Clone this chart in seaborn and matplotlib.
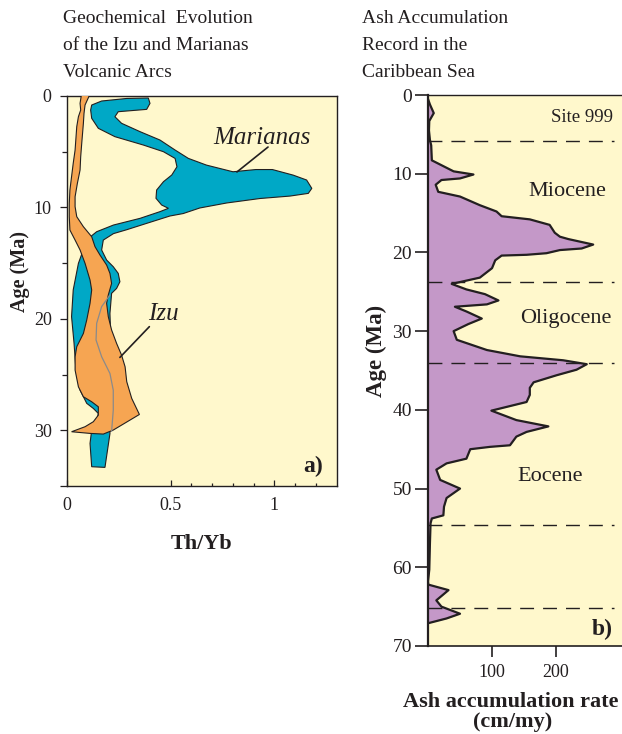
import matplotlib
matplotlib.use("Agg")
import matplotlib.pyplot as plt
import seaborn as sns
import pandas as pd

W, H = 622, 734
sns.set_theme(style="ticks")
plt.rcParams["font.family"] = ["Liberation Serif", "DejaVu Serif"]

INK = "#231f20"
CREAM = "#fff8cc"
BLUE = "#00a8c6"
ORANGE = "#f6a552"
PURPLE = "#c498c8"

# ---------------- panel a: Th/Yb envelopes through time ----------------
marianas_thyb = [0.119, 0.167, 0.288, 0.392, 0.400, 0.384, 0.247, 0.231, 0.263, 0.352,
                 0.448, 0.521, 0.585, 0.672, 0.800, 0.910, 0.990, 1.090, 1.155, 1.180,
                 1.163, 1.075, 0.930, 0.770, 0.640, 0.560, 0.496, 0.384, 0.288, 0.224,
                 0.175, 0.167, 0.191, 0.223, 0.247, 0.255, 0.239, 0.215, 0.207, 0.215,
                 0.207, 0.207, 0.183, 0.119, 0.111, 0.119, 0.143, 0.151, 0.127, 0.095,
                 0.063, 0.043, 0.034, 0.022, 0.030, 0.055, 0.087, 0.105, 0.143, 0.224,
                 0.352, 0.448, 0.489, 0.456, 0.429, 0.432, 0.465, 0.505, 0.530, 0.521,
                 0.465, 0.368, 0.231, 0.151, 0.119, 0.114]
marianas_age = [0.81, 0.45, 0.22, 0.18, 0.66, 1.20, 1.41, 1.86, 2.45, 3.20,
                3.95, 4.85, 5.60, 6.20, 6.80, 6.60, 6.60, 7.10, 7.54, 8.29,
                8.74, 8.98, 9.20, 9.60, 10.05, 10.55, 10.77, 11.43, 12.00, 12.35,
                12.93, 13.82, 14.72, 15.32, 15.92, 16.67, 17.27, 17.71, 19.51, 23.99,
                27.00, 30.30, 33.33, 33.27, 31.18, 29.98, 29.23, 28.49, 28.04, 27.58,
                26.39, 24.59, 22.20, 19.80, 17.40, 15.02, 13.37, 12.75, 12.18, 11.58,
                10.98, 10.38, 10.08, 9.78, 9.18, 8.44, 7.69, 7.09, 6.35, 5.60,
                5.00, 4.40, 3.65, 2.90, 2.00, 1.26]

izu_thyb = [0.071, 0.063, 0.066, 0.055, 0.047, 0.039, 0.030, 0.022, 0.014, 0.011,
            0.011, 0.014, 0.039, 0.063, 0.087, 0.111, 0.119, 0.111, 0.095, 0.079,
            0.047, 0.039, 0.039, 0.055, 0.079, 0.119, 0.151, 0.151, 0.127, 0.087,
            0.022, 0.111, 0.175, 0.223, 0.349, 0.312, 0.288, 0.280, 0.263, 0.239,
            0.215, 0.199, 0.191, 0.199, 0.215, 0.207, 0.191, 0.159, 0.135, 0.119,
            0.079, 0.047, 0.039, 0.039, 0.050, 0.063, 0.066, 0.071, 0.079, 0.082,
            0.087, 0.114]
izu_age = [-0.3, 0.66, 1.26, 1.86, 2.75, 4.85, 6.04, 7.24, 8.44, 9.64,
           10.83, 12.03, 12.93, 13.82, 15.02, 16.52, 17.41, 18.61, 20.11, 21.31,
           22.50, 23.40, 24.60, 26.10, 26.99, 27.44, 27.89, 28.64, 29.23, 29.68,
           30.13, 30.28, 30.34, 29.98, 28.58, 27.14, 25.64, 24.30, 23.25, 22.20,
           21.00, 19.80, 18.61, 17.86, 16.82, 15.92, 15.17, 14.27, 13.52, 12.63,
           11.73, 10.83, 9.93, 9.04, 7.84, 6.64, 5.45, 4.25, 2.45, 1.56,
           0.81, -0.3]

# median trace inside the Izu envelope
izu_mid_thyb = [0.207, 0.167, 0.143, 0.140, 0.167, 0.207, 0.223, 0.223, 0.215]
izu_mid_age = [17.86, 18.9, 20.4, 21.9, 23.4, 24.9, 26.4, 28.2, 30.1]

# ---------------- panel b: ash accumulation, Site 999 ----------------
ash_age = [0.5, 1.2, 2.3, 3.3, 4.5, 5.7, 6.4, 8.3, 9.7, 10.1,
           10.6, 10.8, 11.4, 12.3, 12.9, 14.0, 14.8, 15.4, 15.8, 16.5,
           17.5, 18.0, 18.3, 19.0, 19.5, 19.7, 20.1, 20.3, 20.4, 21.0,
           22.0, 23.2, 24.0, 24.7, 25.3, 26.1, 26.6, 26.9, 27.5, 28.4,
           29.1, 30.0, 31.1, 32.4, 33.2, 33.7, 34.2, 34.9, 35.6, 36.5,
           37.2, 38.1, 39.0, 40.1, 41.3, 42.1, 42.8, 43.4, 44.5, 44.7,
           45.0, 46.2, 46.8, 47.6, 48.9, 50.0, 51.2, 52.3, 53.4, 53.8,
           54.4, 57.0, 60.3, 61.8, 62.2, 62.9, 64.2, 65.0, 65.9, 66.5,
           67.1]
ash_rate = [0, 3, 9, 2, 1.5, 3, 5, 6, 40, 71,
            50, 21, 12, 16, 50, 81, 107, 115, 159, 190,
            198, 206, 219, 258, 240, 206, 185, 154, 115, 105,
            100, 81, 37, 60, 89, 110, 92, 42, 60, 84,
            63, 40, 45, 92, 144, 211, 248, 232, 201, 165,
            159, 159, 154, 99, 138, 188, 154, 138, 128, 97,
            66, 60, 29, 13, 19, 50, 29, 25, 24, 6,
            4, 3, 2, 0, 0.5, 32, 13, 21, 50, 29,
            0.5]
epoch_bounds = [5.8, 23.7, 34.0, 54.6, 65.2]
epoch_names = ["Miocene", "Oligocene", "Eocene"]
epoch_label_pos = [(217, 12.8), (216, 29.0), (190, 49.1)]

ash = pd.DataFrame({"age": ash_age, "rate": ash_rate})
izu_mid = pd.DataFrame({"age": izu_mid_age, "thyb": izu_mid_thyb})


def fx(px):
    return px / W


def fy(py):
    return 1 - py / H


fig = plt.figure(figsize=(W / 100, H / 100), dpi=100)
fig.patch.set_facecolor("white")

# ---- panel a
axa = fig.add_axes([fx(67), fy(486), fx(336.7) - fx(67), fy(96) - fy(486)])
axa.set_facecolor(CREAM)
axa.fill(marianas_thyb, marianas_age, facecolor=BLUE, edgecolor=INK, lw=0.8, zorder=2)
axa.fill(izu_thyb, izu_age, facecolor=ORANGE, edgecolor=INK, lw=0.8, zorder=3)
sns.lineplot(data=izu_mid, x="thyb", y="age", orient="y", estimator=None,
             color="#8a8a8a", lw=0.9, ax=axa, zorder=4)
axa.set_xlim(0, 1.3)
axa.set_ylim(35, 0)
axa.set_xlabel("")
axa.set_ylabel("")
axa.set_yticks([0, 10, 20, 30, 35])
axa.set_yticklabels(["0", "10", "20", "30", ""])
axa.set_yticks([5, 15, 25], minor=True)
axa.set_xticks([0, 0.5, 1])
axa.set_xticklabels(["0", "0.5", "1"])
axa.set_xticks([0.6, 0.7, 0.8, 0.9, 1.1, 1.2], minor=True)
axa.tick_params(axis="y", which="major", direction="out", length=5, width=0.9,
                color=INK, labelsize=13, labelcolor=INK, pad=6)
axa.tick_params(axis="y", which="minor", direction="out", length=3.5, width=0.9, color=INK)
axa.tick_params(axis="x", which="major", direction="in", length=4.5, width=0.9,
                color=INK, labelsize=13, labelcolor=INK, pad=8)
axa.tick_params(axis="x", which="minor", direction="in", length=2.5, width=0.9, color=INK)
for s in axa.spines.values():
    s.set_color(INK)
    s.set_linewidth(1.0)

axa.text(0.705, 4.35, "Marianas", style="italic", fontsize=18, color=INK, va="baseline")
axa.plot([0.969, 0.819], [4.58, 6.82], color=INK, lw=1.2, zorder=5)
axa.text(0.39, 20.1, "Izu", style="italic", fontsize=18, color=INK, va="baseline")
axa.plot([0.397, 0.255], [20.7, 23.46], color=INK, lw=1.2, zorder=5)
axa.text(1.235, 33.75, "a)", fontsize=17, fontweight="bold", color=INK,
         ha="right", va="baseline")

# ---- panel b
axb = fig.add_axes([fx(428), fy(646), 1.0 - fx(428), fy(95) - fy(646)])
axb.set_facecolor(CREAM)
axb.fill_betweenx(ash["age"], 0, ash["rate"], color=PURPLE, lw=0, zorder=2)
sns.lineplot(data=ash, x="rate", y="age", orient="y", estimator=None,
             color=INK, lw=1.6, ax=axb, zorder=3)
for b in epoch_bounds:
    axb.hlines(b, 0, 290, colors=INK, lw=1.0, linestyles=(0, (10, 6.5)), zorder=4)
axb.set_xlim(0, 303)
axb.set_ylim(70, 0)
axb.set_xlabel("")
axb.set_ylabel("")
axb.set_xticks([100, 200])
axb.set_yticks(range(0, 71, 10))
axb.tick_params(axis="x", direction="out", length=8, width=1.2, color=INK,
                labelsize=13, labelcolor=INK, pad=5)
axb.tick_params(axis="y", direction="out", length=9.5, width=1.2, color=INK,
                labelsize=14, labelcolor=INK, pad=2)
axb.spines["right"].set_visible(False)
axb.spines["left"].set_linewidth(1.6)
axb.spines["top"].set_linewidth(1.0)
axb.spines["bottom"].set_linewidth(1.2)
for s in axb.spines.values():
    s.set_color(INK)
for name, (xr, ya) in zip(epoch_names, epoch_label_pos):
    axb.text(xr, ya, name, fontsize=16, color=INK, ha="center", va="baseline")
axb.text(289, 3.4, "Site 999", fontsize=13.5, color=INK, ha="right", va="baseline")
axb.text(289, 68.6, "b)", fontsize=17, fontweight="bold", color=INK,
         ha="right", va="baseline")

# ---- titles and axis labels
for i, line in enumerate(["Geochemical  Evolution", "of the Izu and Marianas", "Volcanic Arcs"]):
    fig.text(fx(63), fy(22.7 + 27.3 * i), line, fontsize=14, color=INK, va="baseline")
for i, line in enumerate(["Ash Accumulation", "Record in the", "Caribbean Sea"]):
    fig.text(fx(362), fy(22.7 + 27.3 * i), line, fontsize=14, color=INK, va="baseline")

fig.text(fx(20), fy(272), "Age (Ma)", rotation=90, fontsize=14.5, fontweight="bold",
         color=INK, ha="center", va="center")
fig.text(fx(376), fy(351), "Age (Ma)", rotation=90, fontsize=16.5, fontweight="bold",
         color=INK, ha="center", va="center")
fig.text(fx(202), fy(549), "Th/Yb", fontsize=16, fontweight="bold", color=INK,
         ha="center", va="baseline")
fig.text(fx(511), fy(706.7), "Ash accumulation rate", fontsize=16, fontweight="bold",
         color=INK, ha="center", va="baseline")
fig.text(fx(513), fy(727), "(cm/my)", fontsize=16, fontweight="bold", color=INK,
         ha="center", va="baseline")

fig.savefig("out.png", dpi=100, facecolor="white")
